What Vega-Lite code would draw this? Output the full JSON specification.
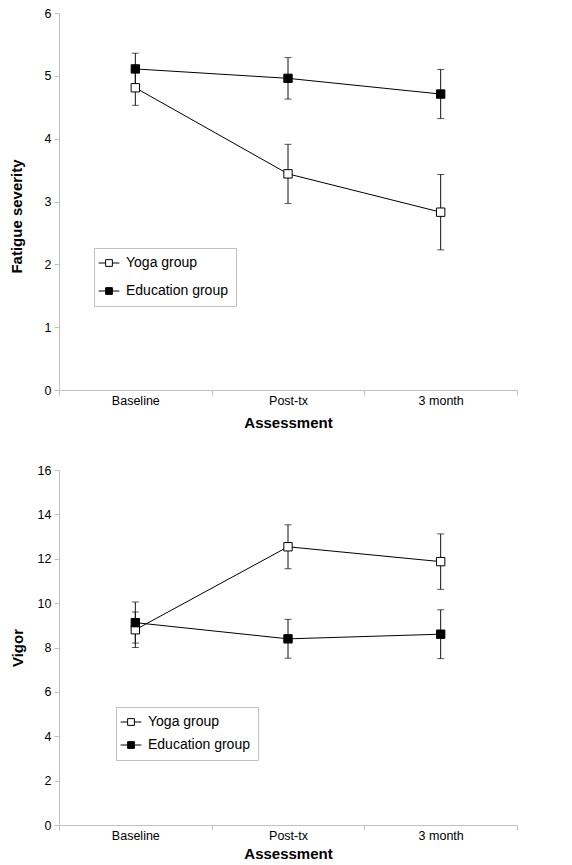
{
  "$schema": "https://vega.github.io/schema/vega-lite/v6.json",
  "padding": {"left": 9, "top": 7, "right": 5, "bottom": 5},
  "background": "white",
  "spacing": 33,
  "config": {
    "view": {"stroke": null},
    "font": "Liberation Sans",
    "axis": {
      "grid": false,
      "domainColor": "#c0c0c0",
      "tickColor": "#c0c0c0",
      "labelFont": "Liberation Sans",
      "labelFontSize": 12.5,
      "labelColor": "#000",
      "titleFont": "Liberation Sans",
      "titleFontSize": 15,
      "titleFontWeight": "bold",
      "titleColor": "#000",
      "tickSize": 5
    }
  },
  "datasets": {
    "fatigue": [
      {"assessment": "Baseline", "group": "Yoga group", "mean": 4.81, "lower": 4.53, "upper": 5.09},
      {"assessment": "Post-tx", "group": "Yoga group", "mean": 3.44, "lower": 2.97, "upper": 3.91},
      {"assessment": "3 month", "group": "Yoga group", "mean": 2.83, "lower": 2.23, "upper": 3.43},
      {"assessment": "Baseline", "group": "Education group", "mean": 5.11, "lower": 4.86, "upper": 5.36},
      {"assessment": "Post-tx", "group": "Education group", "mean": 4.96, "lower": 4.63, "upper": 5.29},
      {"assessment": "3 month", "group": "Education group", "mean": 4.71, "lower": 4.32, "upper": 5.1}
    ],
    "vigor": [
      {"assessment": "Baseline", "group": "Yoga group", "mean": 8.8, "lower": 8.0, "upper": 9.6},
      {"assessment": "Post-tx", "group": "Yoga group", "mean": 12.54, "lower": 11.55, "upper": 13.53},
      {"assessment": "3 month", "group": "Yoga group", "mean": 11.87, "lower": 10.62, "upper": 13.12},
      {"assessment": "Baseline", "group": "Education group", "mean": 9.12, "lower": 8.2, "upper": 10.05},
      {"assessment": "Post-tx", "group": "Education group", "mean": 8.39, "lower": 7.52, "upper": 9.27},
      {"assessment": "3 month", "group": "Education group", "mean": 8.6, "lower": 7.5, "upper": 9.7}
    ]
  },
  "resolve": {"legend": {"fill": "independent"}, "scale": {"y": "independent"}},
  "vconcat": [
    {
      "width": 458,
      "height": 377,
      "data": {"name": "fatigue"},
      "encoding": {
        "x": {"field": "assessment", "type": "nominal", "sort": ["Baseline", "Post-tx", "3 month"],
              "scale": {"paddingInner": 0, "paddingOuter": 0},
              "axis": {"title": "Assessment", "labelAngle": 0, "tickBand": "extent", "labelPadding": -1, "titlePadding": 9}}
      },
      "layer": [
        {
          "mark": {"type": "rule", "color": "#111", "strokeWidth": 1},
          "encoding": {
            "y": {"field": "lower", "type": "quantitative", "scale": {"domain": [0, 6]},
                  "axis": {"title": "Fatigue severity", "values": [0,1,2,3,4,5,6], "format": "d", "labelPadding": 3, "minExtent": 22, "maxExtent": 22, "titlePadding": 13, "titleY": 203}},
            "y2": {"field": "upper"}
          }
        },
        {
          "mark": {"type": "tick", "color": "#111", "size": 7, "thickness": 1},
          "encoding": {"y": {"field": "lower", "type": "quantitative"}}
        },
        {
          "mark": {"type": "tick", "color": "#111", "size": 7, "thickness": 1},
          "encoding": {"y": {"field": "upper", "type": "quantitative"}}
        },
        {
          "mark": {"type": "line", "color": "#000", "strokeWidth": 1},
          "encoding": {"y": {"field": "mean", "type": "quantitative"}, "detail": {"field": "group"}}
        },
        {
          "mark": {"type": "point", "shape": "square", "size": 70, "filled": true, "opacity": 1, "stroke": "#000", "strokeWidth": 1},
          "encoding": {
            "y": {"field": "mean", "type": "quantitative"},
            "fill": {"field": "group", "type": "nominal",
                     "scale": {"domain": ["Yoga group", "Education group"], "range": ["#ffffff", "#000000"]},
                     "legend": {"orient": "none", "legendX": 35, "legendY": 235, "title": null,
                                "symbolType": "M-2.3,0H-0.75M0.75,0H2.3M-0.75,-0.75H0.75V0.75H-0.75Z",
                                "symbolSize": 81, "symbolStrokeColor": "#000", "symbolStrokeWidth": 1,
                                "labelFont": "Liberation Sans", "labelFontSize": 14, "labelColor": "#000", "labelOffset": 10,
                                "strokeColor": "#c0c0c0", "padding": 8, "rowPadding": 14, "fillColor": "#fff"}}
          }
        }
      ]
    },
    {
      "width": 458,
      "height": 355,
      "data": {"name": "vigor"},
      "encoding": {
        "x": {"field": "assessment", "type": "nominal", "sort": ["Baseline", "Post-tx", "3 month"],
              "scale": {"paddingInner": 0, "paddingOuter": 0},
              "axis": {"title": "Assessment", "labelAngle": 0, "tickBand": "extent", "labelPadding": -1, "titlePadding": 5}}
      },
      "layer": [
        {
          "mark": {"type": "rule", "color": "#111", "strokeWidth": 1},
          "encoding": {
            "y": {"field": "lower", "type": "quantitative", "scale": {"domain": [0, 16]},
                  "axis": {"title": "Vigor", "values": [0,2,4,6,8,10,12,14,16], "format": "d", "labelPadding": 3, "minExtent": 22, "maxExtent": 22, "titlePadding": 12}},
            "y2": {"field": "upper"}
          }
        },
        {
          "mark": {"type": "tick", "color": "#111", "size": 7, "thickness": 1},
          "encoding": {"y": {"field": "lower", "type": "quantitative"}}
        },
        {
          "mark": {"type": "tick", "color": "#111", "size": 7, "thickness": 1},
          "encoding": {"y": {"field": "upper", "type": "quantitative"}}
        },
        {
          "mark": {"type": "line", "color": "#000", "strokeWidth": 1},
          "encoding": {"y": {"field": "mean", "type": "quantitative"}, "detail": {"field": "group"}}
        },
        {
          "mark": {"type": "point", "shape": "square", "size": 70, "filled": true, "opacity": 1, "stroke": "#000", "strokeWidth": 1},
          "encoding": {
            "y": {"field": "mean", "type": "quantitative"},
            "fill": {"field": "group", "type": "nominal",
                     "scale": {"domain": ["Yoga group", "Education group"], "range": ["#ffffff", "#000000"]},
                     "legend": {"orient": "none", "legendX": 57, "legendY": 237, "title": null,
                                "symbolType": "M-2.3,0H-0.75M0.75,0H2.3M-0.75,-0.75H0.75V0.75H-0.75Z",
                                "symbolSize": 81, "symbolStrokeColor": "#000", "symbolStrokeWidth": 1,
                                "labelFont": "Liberation Sans", "labelFontSize": 14, "labelColor": "#000", "labelOffset": 10,
                                "strokeColor": "#c0c0c0", "padding": 8, "rowPadding": 9, "fillColor": "#fff"}}
          }
        }
      ]
    }
  ]
}
